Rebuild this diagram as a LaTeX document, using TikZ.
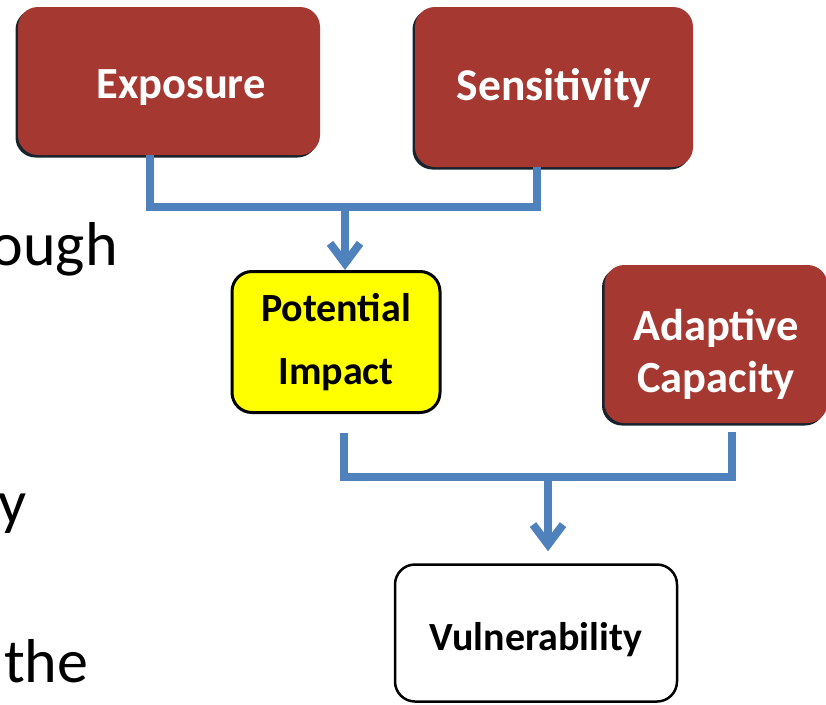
\documentclass[tikz,border=0pt]{standalone}
\usepackage{fontspec}
\setmainfont{Carlito}
\usetikzlibrary{arrows.meta,shadows}

\definecolor{brick}{RGB}{165,57,50}
\definecolor{flow}{RGB}{79,129,189}
\definecolor{hilite}{RGB}{255,255,0}
\definecolor{shade}{RGB}{25,35,45}

\begin{document}
\begin{tikzpicture}[x=1pt, y=-1pt,
  factor/.style={rounded corners=20pt, fill=brick, text=white,
    drop shadow={shadow xshift=-2.5pt, shadow yshift=-2.5pt, fill=shade, opacity=1},
    font=\bfseries\fontsize{44.5}{52}\selectfont, align=center},
  outcome/.style={rounded corners=20pt, draw=black, line width=3pt, text=black,
    font=\bfseries\fontsize{40}{63}\selectfont, align=center},
  conn/.style={draw=flow, line width=8pt},
  flowtip/.style={-{Straight Barb[length=20pt, width=30pt]}},
  bodytext/.style={font=\fontsize{62}{74}\selectfont, inner sep=0pt}]

  \useasboundingbox (0,0) rectangle (826,704);

  % factor boxes
  \node[factor, minimum width=302pt, minimum height=148pt,
        text height=34pt, text depth=0pt] (exp) at (169,81) {\hspace*{24pt}Exposure};
  \node[factor, minimum width=278pt, minimum height=160pt,
        font=\bfseries\fontsize{45.5}{52}\selectfont,
        text height=26pt, text depth=0pt] (sen) at (554,87) {Sensitivity};
  \node[factor, minimum width=223pt, minimum height=158pt]
        (ada) at (716,344) {\rule{0pt}{52pt}Adaptive\\Capacity};

  % derived boxes
  \node[outcome, fill=hilite, minimum width=208pt, minimum height=141pt,
        font=\bfseries\fontsize{40}{63}\selectfont] (pot) at (336,342) {Potential\\Impact};
  \node[outcome, fill=white, line width=2.5pt, minimum width=282pt, minimum height=137pt,
        text height=34pt, text depth=0pt] (vul) at (536,633) {Vulnerability};

  % junction points
  \coordinate (j1) at (345,207);
  \coordinate (xa) at (150,0);
  \coordinate (xb) at (537,0);
  \coordinate (j2) at (548,477);
  \coordinate (xc) at (344,0);
  \coordinate (xd) at (732,0);

  % exposure + sensitivity -> potential impact
  \draw[conn] (xa |- exp.south) -- (xa |- j1) -- (xb |- j1) -- (xb |- sen.south);
  \draw[conn, flowtip] (j1) -- (j1 |- pot.north);

  % potential impact + adaptive capacity -> vulnerability
  \draw[conn] ([yshift=-19pt]xc |- pot.south) -- (xc |- j2) -- (xd |- j2)
              -- ([yshift=-9pt]xd |- ada.south);
  \draw[conn, flowtip, shorten >=12pt] (j2) -- (j2 |- vul.north);

  % running text at the left edge
  \node[bodytext, anchor=base east] (t1) at (118,265) {ough};
  \node[bodytext, anchor=base west] (t2) at (-2,523) {y};
  \node[bodytext, anchor=base west] (t3) at (4,682) {the};
\end{tikzpicture}
\end{document}
